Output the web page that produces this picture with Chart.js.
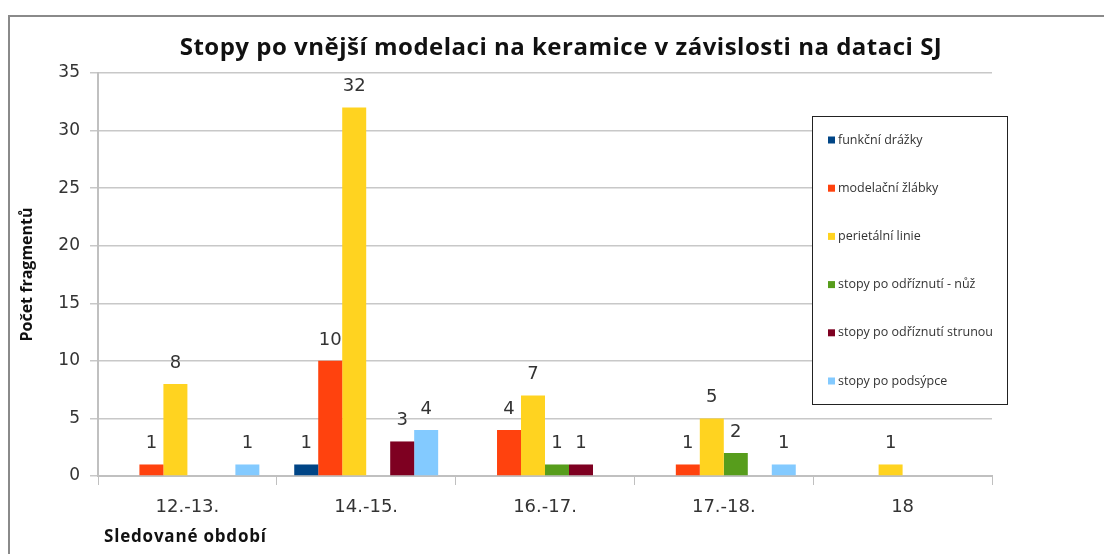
<!DOCTYPE html>
<html>
<head>
<meta charset="utf-8">
<script src="https://cdn.jsdelivr.net/npm/chart.js@4.4.1/dist/chart.umd.min.js"></script>
<style>
  html, body { margin: 0; padding: 0; background: #fff; }
  #wrap { position: relative; width: 1104px; height: 554px; }
  #frame { position: absolute; left: 8px; top: 15px; right: 0; bottom: -5px; border-left: 2px solid #8a8a8a; border-top: 2px solid #8a8a8a; }
  canvas { position: absolute; left: 0; top: 0; }
</style>
</head>
<body>
<div id="wrap">
  <div id="frame"></div>
  <canvas id="chart" width="1104" height="554"></canvas>
</div>
<script>
const chartTitle = 'Stopy po vnější modelaci na keramice v závislosti na dataci SJ';
const categories = ['12.-13.', '14.-15.', '16.-17.', '17.-18.', '18'];
const seriesNames = ['funkční drážky', 'modelační žlábky', 'perietální linie', 'stopy po odříznutí - nůž', 'stopy po odříznutí strunou', 'stopy po podsýpce'];
const funkcniDrazky = [null, 1, null, null, null];
const modelacniZlabky = [1, 10, 4, 1, null];
const perietalniLinie = [8, 32, 7, 5, 1];
const odriznutiNuz = [null, null, 1, 2, null];
const odriznutiStrunou = [null, 3, 1, null, null];
const podsypce = [1, 4, null, 1, null];
const colors = ['#004586', '#ff420e', '#ffd320', '#579d1c', '#7e0021', '#83caff'];
const yTicks = [0, 5, 10, 15, 20, 25, 30, 35];

const allSeries = [funkcniDrazky, modelacniZlabky, perietalniLinie, odriznutiNuz, odriznutiStrunou, podsypce];

const valueLabels = {
  id: 'valueLabels',
  afterDatasetsDraw(chart) {
    const ctx = chart.ctx;
    ctx.save();
    ctx.font = '18px "DejaVu Sans"';
    ctx.fillStyle = '#333';
    ctx.textAlign = 'center';
    ctx.textBaseline = 'middle';
    chart.data.datasets.forEach((ds, i) => {
      chart.getDatasetMeta(i).data.forEach((bar, j) => {
        const v = ds.data[j];
        if (v === null || v === undefined) return;
        ctx.fillText(String(v), bar.x, bar.y - 21);
      });
    });
    ctx.restore();
  }
};

const boxLegend = {
  id: 'boxLegend',
  afterDraw(chart) {
    const ctx = chart.ctx;
    ctx.save();
    ctx.fillStyle = '#fff';
    ctx.fillRect(812, 116, 196, 289);
    ctx.strokeStyle = '#222';
    ctx.lineWidth = 1;
    ctx.strokeRect(812.5, 116.5, 195, 288);
    ctx.font = '12.5px "Open Sans"';
    ctx.textBaseline = 'middle';
    chart.data.datasets.forEach((ds, i) => {
      const y = 140 + i * 48.2;
      ctx.fillStyle = ds.backgroundColor;
      ctx.fillRect(828, y - 3.5, 7, 7);
      ctx.fillStyle = '#333';
      ctx.fillText(ds.label, 838, y);
    });
    ctx.restore();
  }
};

// titles drawn by hand so they can sit off-centre like the original
const handTitles = {
  id: 'handTitles',
  afterDraw(chart) {
    const ctx = chart.ctx;
    ctx.save();
    ctx.fillStyle = '#111';
    ctx.textBaseline = 'middle';
    ctx.letterSpacing = '0.5px';
    ctx.font = 'bold 24px "Open Sans"';
    ctx.textAlign = 'center';
    ctx.fillText(chartTitle, 561, 48);
    ctx.letterSpacing = '0.8px';
    ctx.font = 'bold 17px "Open Sans"';
    ctx.textAlign = 'left';
    ctx.fillText('Sledované období', 104, 537);
    ctx.restore();
  }
};

new Chart(document.getElementById('chart'), {
  type: 'bar',
  data: {
    labels: categories,
    datasets: allSeries.map((d, i) => ({
      label: seriesNames[i],
      data: d,
      backgroundColor: colors[i],
      barPercentage: 1,
      categoryPercentage: 0.805
    }))
  },
  options: {
    responsive: false,
    animation: false,
    layout: { padding: { top: 73, right: 112, bottom: 6, left: 18 } },
    plugins: {
      legend: { display: false },
      title: { display: false },
      tooltip: { enabled: false }
    },
    scales: {
      x: {
        grid: { drawOnChartArea: false, color: '#c0c0c0', tickLength: 9, offset: true },
        border: { color: '#c0c0c0', width: 2 },
        ticks: { color: '#333', font: { family: 'DejaVu Sans', size: 18 }, padding: 12 },
        afterFit(scale) { scale.height = 72; }
      },
      y: {
        min: 0,
        max: 35,
        afterBuildTicks(scale) { scale.ticks = yTicks.map(v => ({ value: v })); },
        grid: { color: '#c8c8c8', tickLength: 8, lineWidth: 1.5 },
        border: { color: '#c0c0c0', width: 2 },
        ticks: { color: '#333', font: { family: 'DejaVu Sans', size: 17 }, padding: 10 },
        title: { display: true, text: 'Počet fragmentů', color: '#111', font: { family: 'Open Sans', weight: 'bold', size: 16 }, padding: { top: 0, bottom: 4 } },
        afterFit(scale) { scale.width = 80; }
      }
    }
  },
  plugins: [valueLabels, boxLegend, handTitles]
});
</script>
</body>
</html>
